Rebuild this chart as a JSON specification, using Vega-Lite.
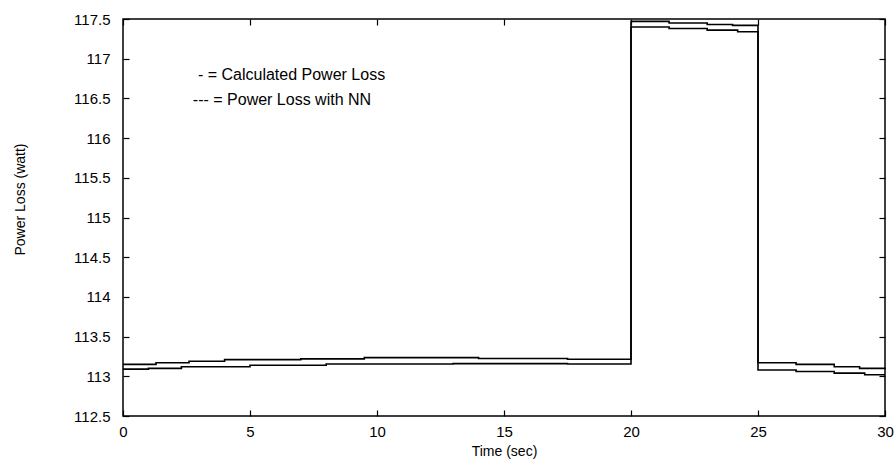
{
  "$schema": "https://vega.github.io/schema/vega-lite/v6.json",
  "width": 762,
  "height": 397,
  "autosize": {"type": "none"},
  "padding": {"left": 123, "top": 19, "right": 11, "bottom": 55},
  "background": "white",
  "config": {
    "view": {"stroke": "black", "strokeWidth": 1.5},
    "font": "Liberation Sans",
    "axis": {"labelFont": "Liberation Sans", "titleFont": "Liberation Sans", "labelColor": "black", "titleColor": "black", "labelFontSize": 15, "titleFontSize": 14, "titleFontWeight": "normal", "domainColor": "black", "tickColor": "black", "grid": false, "tickSize": -6, "tickWidth": 1.2, "labelOverlap": false, "labelFlush": false}
  },
  "datasets": {
    "lines": [
      {"series": "Calculated Power Loss", "t": 0, "v": 113.15},
      {"series": "Calculated Power Loss", "t": 1.3, "v": 113.17},
      {"series": "Calculated Power Loss", "t": 2.6, "v": 113.19},
      {"series": "Calculated Power Loss", "t": 4.0, "v": 113.21},
      {"series": "Calculated Power Loss", "t": 7.0, "v": 113.22},
      {"series": "Calculated Power Loss", "t": 9.5, "v": 113.235},
      {"series": "Calculated Power Loss", "t": 14.0, "v": 113.225},
      {"series": "Calculated Power Loss", "t": 17.5, "v": 113.215},
      {"series": "Calculated Power Loss", "t": 20.0, "v": 117.47},
      {"series": "Calculated Power Loss", "t": 21.5, "v": 117.45},
      {"series": "Calculated Power Loss", "t": 23.0, "v": 117.43},
      {"series": "Calculated Power Loss", "t": 24.0, "v": 117.42},
      {"series": "Calculated Power Loss", "t": 25.0, "v": 113.17},
      {"series": "Calculated Power Loss", "t": 26.5, "v": 113.15},
      {"series": "Calculated Power Loss", "t": 28.0, "v": 113.12},
      {"series": "Calculated Power Loss", "t": 29.0, "v": 113.1},
      {"series": "Calculated Power Loss", "t": 30.0, "v": 113.09},
      {"series": "Power Loss with NN", "t": 0, "v": 113.09},
      {"series": "Power Loss with NN", "t": 1.0, "v": 113.1},
      {"series": "Power Loss with NN", "t": 2.3, "v": 113.12},
      {"series": "Power Loss with NN", "t": 5.0, "v": 113.14},
      {"series": "Power Loss with NN", "t": 8.0, "v": 113.155},
      {"series": "Power Loss with NN", "t": 13.0, "v": 113.16},
      {"series": "Power Loss with NN", "t": 17.5, "v": 113.155},
      {"series": "Power Loss with NN", "t": 20.0, "v": 117.4},
      {"series": "Power Loss with NN", "t": 21.5, "v": 117.38},
      {"series": "Power Loss with NN", "t": 23.0, "v": 117.36},
      {"series": "Power Loss with NN", "t": 24.2, "v": 117.34},
      {"series": "Power Loss with NN", "t": 25.0, "v": 113.08},
      {"series": "Power Loss with NN", "t": 26.5, "v": 113.06},
      {"series": "Power Loss with NN", "t": 28.0, "v": 113.04},
      {"series": "Power Loss with NN", "t": 29.2, "v": 113.02},
      {"series": "Power Loss with NN", "t": 30.0, "v": 113.02}
    ],
    "notes": [
      {"t": 2.95, "v": 116.8, "label": "- = Calculated Power Loss"},
      {"t": 2.75, "v": 116.48, "label": "--- = Power Loss with NN"}
    ]
  },
  "layer": [
    {
      "data": {"name": "lines"},
      "mark": {"type": "line", "interpolate": "step-after", "color": "black", "strokeWidth": 1.6},
      "encoding": {
        "x": {"field": "t", "type": "quantitative", "scale": {"domain": [0, 30], "nice": false}, "axis": {"values": [0, 5, 10, 15, 20, 25, 30], "title": "Time (sec)", "labelPadding": 14, "titlePadding": 5, "domain": false, "labelOverlap": false}},
        "y": {"field": "v", "type": "quantitative", "scale": {"domain": [112.5, 117.5], "nice": false, "zero": false}, "axis": {"values": [112.5, 113, 113.5, 114, 114.5, 115, 115.5, 116, 116.5, 117, 117.5], "format": ".1~f", "title": "Power Loss (watt)", "labelPadding": 19, "titlePadding": 46, "titleY": 180, "domain": false, "labelOverlap": false}},
        "detail": {"field": "series"}
      }
    },
    {
      "data": {"name": "notes"},
      "mark": {"type": "text", "align": "left", "baseline": "middle", "fontSize": 16, "font": "Liberation Sans", "color": "black"},
      "encoding": {
        "x": {"field": "t", "type": "quantitative", "scale": {"domain": [0, 30], "nice": false}, "axis": {"orient": "top", "values": [0, 5, 10, 15, 20, 25, 30], "labels": false, "title": null, "domain": false}},
        "y": {"field": "v", "type": "quantitative", "scale": {"domain": [112.5, 117.5], "nice": false, "zero": false}, "axis": {"orient": "right", "values": [112.5, 113, 113.5, 114, 114.5, 115, 115.5, 116, 116.5, 117, 117.5], "labels": false, "title": null, "domain": false}},
        "text": {"field": "label"}
      }
    }
  ],
  "resolve": {"scale": {"x": "independent", "y": "independent"}, "axis": {"x": "independent", "y": "independent"}}
}
